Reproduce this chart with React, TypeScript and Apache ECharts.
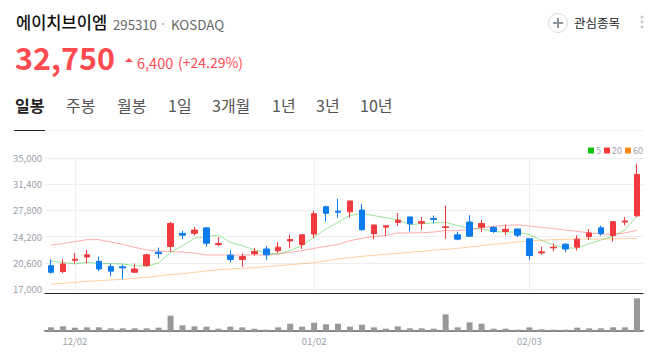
import React, { useEffect, useRef } from "react";
import * as echarts from "echarts";

const categories = [
  "11/28","11/29","12/02","12/03","12/04","12/05","12/06","12/09","12/10","12/11",
  "12/12","12/13","12/16","12/17","12/18","12/19","12/20","12/23","12/24","12/26",
  "12/27","12/30","01/02","01/03","01/06","01/07","01/08","01/09","01/10","01/13",
  "01/14","01/15","01/16","01/17","01/20","01/21","01/22","01/23","01/24","01/31",
  "02/03","02/04","02/05","02/06","02/07","02/10","02/11","02/12","02/13","02/14",
];
const dateLabels = ["12/02", "01/02", "02/03"];
const priceTicks = [17000, 20600, 24200, 27800, 31400, 35000];

// open, close, low, high
const candles = [
  [20200,19300,19100,21100],[19400,20450,19200,21100],[20950,21100,20500,21950],[21400,21700,20500,22400],[20800,19750,19450,21450],
  [20100,19450,18750,20500],[20050,19900,18350,20350],[19300,19750,19200,20500],[20200,21700,20050,21850],[22050,21850,21200,22700],
  [22850,26000,22150,26250],[24650,24400,23850,25000],[24650,25100,24350,25500],[25400,23300,22850,25450],[23100,23250,22850,24150],
  [21650,21050,20650,22350],[21050,21450,20050,21850],[21850,22150,21600,22650],[22500,21700,21000,22900],[22250,22750,21950,23450],
  [23600,23800,22600,24450],[23100,24450,22500,24500],[24550,27350,24000,27750],[28300,27400,26300,28450],[27700,27550,26800,29400],
  [27600,29100,26800,29100],[27850,25150,25000,28700],[24600,25800,23850,25800],[25500,25700,24250,25700],[26150,26450,25700,27450],
  [26900,25950,24900,26900],[26050,26250,25150,26900],[26700,26550,26000,27100],[25450,25550,23900,28450],[24450,23850,23700,24900],
  [26200,24250,24250,27150],[25500,26000,24800,26500],[25450,24900,24700,25650],[24900,25200,24400,25850],[25250,24400,24100,25250],
  [23900,21600,21000,23900],[21950,22100,21700,22800],[22650,22750,22200,23250],[23150,22500,22050,23300],[22750,23850,22300,24400],
  [24200,24700,23750,25250],[25400,24600,24350,25700],[24350,26250,23550,26250],[26200,26350,25750,26900],[27050,32750,26900,34200],
];
const ma5 = [
  20850,20660,20440,20660,20530,20480,20440,20210,20160,20570,22040,22950,23960,24190,24420,
  23410,22950,22400,21950,21810,22310,22950,24150,25250,26160,27120,27350,27080,26800,26530,25840,25980,26070,
  26160,25700,25290,25250,24880,24830,24830,24470,23690,23090,22630,22630,23230,23730,24240,25150,26980,
];
const ma20 = [
  23050,23230,23500,23780,23780,23460,23140,22730,22360,22220,22130,22080,21950,21670,21670,
  21670,21670,21670,21670,21810,22040,22270,22590,22860,23140,23640,23960,24190,24370,24700,24700,24740,24830,
  25020,25020,25150,25430,25610,25750,25800,25660,25470,25290,25110,24920,24700,24560,24510,24700,25060,
];
const ma60 = [
  17690,17780,17920,18050,18150,18240,18330,18470,18600,18790,18970,19110,19290,19470,19660,
  19750,19840,19930,20070,20210,20340,20480,20620,20890,21120,21310,21490,21630,21760,21900,22040,22180,22360,
  22450,22590,22770,22950,23140,23280,23460,23600,23690,23780,23830,23870,23870,23870,23870,23920,23920,
];
const volumes = [
  11,14,10,11,11,8,8,8,8,10,46,17,14,13,7,
  13,11,7,4,11,22,13,25,20,22,13,19,11,7,14,8,8,7,
  50,11,26,22,7,7,4,11,5,4,4,10,8,8,11,11,98,
];

const FONT = '"Noto Sans CJK KR", "Noto Sans", sans-serif';
const RED = "#f03a3e";
const BLUE = "#0b7bf0";
const HEAD_RED = "#ff4b4f";

const tabs: [string, number][] = [
  ["일봉", 15], ["주봉", 66], ["월봉", 117], ["1일", 168], ["3개월", 212], ["1년", 272], ["3년", 316], ["10년", 360],
];

function txt(text: string, x: number, y: number, fontSize: number, fill: string, fontWeight: any = "normal") {
  return {
    type: "text", x, y, silent: true,
    style: { text, x: 0, y: 0, fontSize, fontWeight, fill, fontFamily: FONT, textVerticalAlign: "middle" },
  };
}

export default function App() {
  const ref = useRef<HTMLDivElement>(null);
  useEffect(() => {
    const chart = echarts.init(ref.current!, null, { renderer: "svg" });
    const isDate = (_: number, v: string) => dateLabels.includes(v);
    const line = (name: string, data: number[], color: string) => ({
      name, type: "line", data, xAxisIndex: 0, yAxisIndex: 0, symbol: "none", z: 2,
      itemStyle: { color }, lineStyle: { color, width: 1, opacity: 0.42 },
    });
    chart.setOption({
      animation: false,
      backgroundColor: "#fff",
      textStyle: { fontFamily: FONT },
      legend: {
        data: ["5", "20", "60"], right: 10, top: 141, icon: "rect", itemWidth: 6, itemHeight: 6, itemGap: 3,
        selectedMode: false, textStyle: { color: "#a0a4ab", fontSize: 9, padding: [0, 0, 0, -3] },
      },
      grid: [
        { left: 45, width: 598, top: 158, height: 131 },
        { left: 45, width: 598, top: 293, height: 38 },
      ],
      xAxis: [
        {
          type: "category", gridIndex: 0, data: categories, offset: 4,
          axisLine: { lineStyle: { color: "#222", width: 1 } }, axisTick: { show: false }, axisLabel: { show: false }, splitLine: { show: false },
        },
        {
          type: "category", gridIndex: 1, data: categories,
          axisLine: { lineStyle: { color: "#888", width: 2 } },
          axisTick: { alignWithLabel: true, interval: isDate, length: 3, lineStyle: { color: "#222" } },
          axisLabel: { interval: isDate, color: "#9aa0a8", fontSize: 9.5, margin: 5, fontFamily: FONT },
          splitLine: { show: false },
        },
      ],
      yAxis: [
        {
          type: "value", gridIndex: 0, min: 17000, max: 35000, position: "left",
          axisLine: { show: false },
          axisTick: { show: false, customValues: priceTicks },
          axisLabel: {
            customValues: priceTicks, color: "#9aa0a8", fontSize: 9.5, margin: 3, fontFamily: FONT,
            formatter: (v: number) => v.toLocaleString("en-US"),
          },
          splitLine: { show: true, lineStyle: { color: "#eeeeee", width: 1 } },
        },
        { type: "value", gridIndex: 1, min: 0, max: 114, show: false, splitLine: { show: false } },
      ],
      series: [
        {
          name: "price", type: "candlestick", data: candles, xAxisIndex: 0, yAxisIndex: 0, barWidth: 6, z: 3,
          itemStyle: { color: RED, color0: BLUE, borderColor: RED, borderColor0: BLUE, borderWidth: 1 },
          markLine: {
            silent: true, symbol: "none", z: 1, label: { show: false },
            lineStyle: { color: "#eeeeee", type: "solid", width: 1 },
            data: dateLabels.map((d) => ({ xAxis: d })),
          },
        },
        line("5", ma5, "#0cc40c"),
        line("20", ma20, "#ff3a3a"),
        line("60", ma60, "#ff8a1c"),
        {
          name: "volume", type: "bar", data: volumes, xAxisIndex: 1, yAxisIndex: 1, barWidth: 6,
          itemStyle: { color: "#999999" },
        },
      ],
      graphic: [
        txt("에이치브이엠", 16, 22, 16.5, "#111", 500),
        txt("295310", 113, 24, 13.2, "#666"),
        txt("KOSDAQ", 171, 24, 13.4, "#666"),
        { type: "circle", shape: { cx: 163, cy: 24, r: 1 }, style: { fill: "#aaa" }, silent: true },
        txt("32,750", 15, 57, 30.5, HEAD_RED, "bold"),
        { type: "polygon", shape: { points: [[125, 62], [133, 62], [129, 58]] }, style: { fill: HEAD_RED }, silent: true },
        txt("6,400", 137, 62, 14.5, HEAD_RED),
        txt("(+24.29%)", 178, 62, 14, HEAD_RED),
        { type: "circle", shape: { cx: 558, cy: 23, r: 9.5 }, style: { fill: "#fff", stroke: "#d7dade", lineWidth: 1 }, silent: true },
        { type: "line", shape: { x1: 553, y1: 23, x2: 563, y2: 23 }, style: { stroke: "#8d939c", lineWidth: 2 }, silent: true },
        { type: "line", shape: { x1: 558, y1: 18, x2: 558, y2: 28 }, style: { stroke: "#8d939c", lineWidth: 2 }, silent: true },
        txt("관심종목", 574, 22, 12.5, "#222"),
        { type: "circle", shape: { cx: 642, cy: 17, r: 1.5 }, style: { fill: "#c4c7cc" }, silent: true },
        { type: "circle", shape: { cx: 642, cy: 22, r: 1.5 }, style: { fill: "#c4c7cc" }, silent: true },
        { type: "circle", shape: { cx: 642, cy: 27, r: 1.5 }, style: { fill: "#c4c7cc" }, silent: true },
        ...tabs.map(([t, x], i) => txt(t, x, 105, 16, i === 0 ? "#222" : "#555", i === 0 ? 700 : "normal")),
        { type: "rect", shape: { x: 14, y: 130, width: 630, height: 1 }, style: { fill: "#f0f0f0" }, silent: true },
        { type: "rect", shape: { x: 14, y: 130, width: 31, height: 1 }, style: { fill: "#222" }, silent: true },
      ],
    });
    return () => chart.dispose();
  }, []);
  return <div ref={ref} style={{ position: "absolute", left: 0, top: 0, width: 658, height: 355 }} />;
}
